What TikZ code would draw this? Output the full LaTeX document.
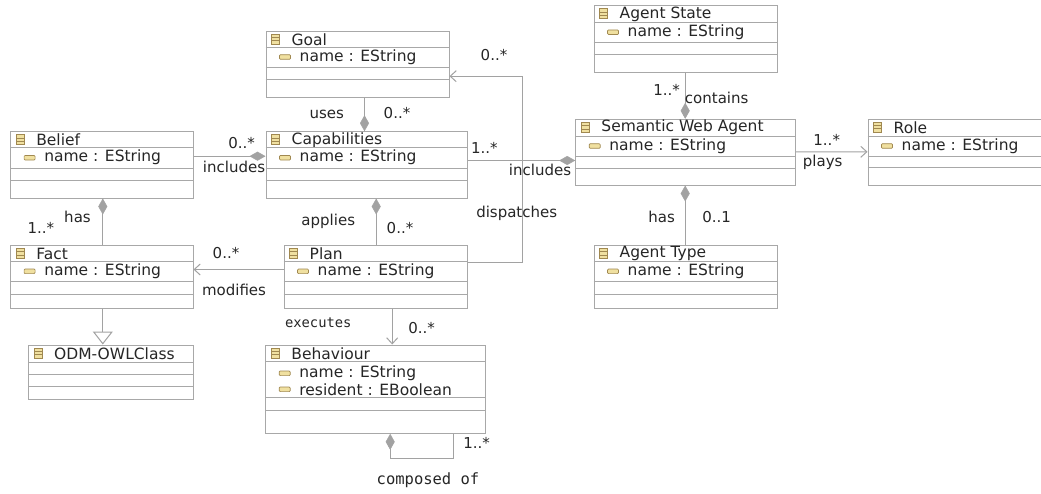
\documentclass[tikz,border=0pt]{standalone}
\usepackage{fontspec}
\setmainfont{DejaVu Sans}
\newfontfamily\monofont{DejaVu Sans Mono}
\usetikzlibrary{arrows.meta,fit,calc}
\definecolor{boxline}{HTML}{A8A8A8}
\definecolor{connc}{HTML}{A2A2A2}
\definecolor{iconfill}{HTML}{F0E0A0}
\definecolor{icondraw}{HTML}{A08850}
\definecolor{txt}{HTML}{262626}
\tikzset{
  classbox/.style={draw=boxline, line width=1pt, inner sep=0pt, fill=white},
  comp/.style={draw=boxline, line width=0.8pt},
  iconst/.style={draw=icondraw, fill=iconfill, line width=0.7pt},
  iconln/.style={draw=icondraw, line width=0.7pt},
  ttl/.style={font=\fontsize{15.5}{16}\selectfont, text=txt, inner sep=0pt, anchor=west},
  lbl/.style={font=\fontsize{15}{16}\selectfont, text=txt, inner sep=0pt},
  mlbl/.style={font=\monofont\fontsize{13.8}{14}\selectfont, text=txt, inner sep=0pt},
  assoc/.style={draw=connc, line width=1pt},
  compo/.style={assoc, -{Diamond[length=16pt,width=9pt,fill=connc,line width=0.5pt]}},
  navig/.style={assoc, -{Straight Barb[length=6pt,width=11pt,line width=1pt]}},
  gener/.style={assoc, -{Triangle[length=13pt,width=20pt,fill=white,line width=1pt]}}
}
\newcommand{\mkclass}[4]{%
  \node[classbox, fit={#2 #3}] (#1) {};
  \draw[iconst] ([xshift=6pt,yshift=-3.5pt]#1.north west) rectangle ([xshift=14pt,yshift=-13.5pt]#1.north west);
  \draw[iconln] ([xshift=6pt,yshift=-6.8pt]#1.north west) -- ([xshift=14pt,yshift=-6.8pt]#1.north west);
  \draw[iconln] ([xshift=6pt,yshift=-10.2pt]#1.north west) -- ([xshift=14pt,yshift=-10.2pt]#1.north west);
  \node[ttl] (#1-title) at ([xshift=26pt,yshift=-8.8pt]#1.north west) {#4};
}
\newcommand{\compline}[2]{\draw[comp] ([yshift=-#2pt]#1.north west) -- ([yshift=-#2pt]#1.north east);}
\newcommand{\mkattr}[4]{%
  \draw[iconst, rounded corners=1pt] ([xshift=14pt,yshift=-#3pt+2.3pt]#1.north west) rectangle ([xshift=25pt,yshift=-#3pt-2.3pt]#1.north west);
  \node[ttl] (#1-#2) at ([xshift=34pt,yshift=-#3pt]#1.north west) {#4};
}
\begin{document}
\begin{tikzpicture}[x=1pt,y=-1pt]
\useasboundingbox[fill=white] (0,0) rectangle (1041,493);

% classes
\mkclass{goal}{(266,31)}{(449,97)}{Goal}
\compline{goal}{16.5}\compline{goal}{36.8}\compline{goal}{49.2}
\mkattr{goal}{a1}{26.5}{name : EString}

\mkclass{capab}{(266,131.7)}{(467.5,198)}{Capabilities}
\compline{capab}{16.5}\compline{capab}{36.8}\compline{capab}{49.2}
\mkattr{capab}{a1}{26.5}{name : EString}

\mkclass{belief}{(10.6,131.7)}{(193,198)}{Belief}
\compline{belief}{16.5}\compline{belief}{36.8}\compline{belief}{49.2}
\mkattr{belief}{a1}{26.5}{name : EString}

\mkclass{fact}{(10.6,245.3)}{(193,308)}{Fact}
\compline{fact}{16.5}\compline{fact}{36.8}\compline{fact}{49.2}
\mkattr{fact}{a1}{26.5}{name : EString}

\mkclass{plan}{(284,245.3)}{(467.5,308)}{Plan}
\compline{plan}{16.5}\compline{plan}{36.8}\compline{plan}{49.2}
\mkattr{plan}{a1}{26.5}{name : EString}

\mkclass{astate}{(594,5.7)}{(777.5,72)}{Agent State}
\compline{astate}{17}\compline{astate}{37}\compline{astate}{49.6}
\mkattr{astate}{a1}{27}{name : EString}

\mkclass{swa}{(575.7,119.3)}{(795.5,185)}{Semantic Web Agent}
\compline{swa}{17.4}\compline{swa}{37.4}\compline{swa}{49.7}
\mkattr{swa}{a1}{27.2}{name : EString}

\mkclass{atype}{(594,245.3)}{(777.5,308)}{Agent Type}
\compline{atype}{16.5}\compline{atype}{36.8}\compline{atype}{49.2}
\mkattr{atype}{a1}{26.5}{name : EString}

\mkclass{role}{(868,119)}{(1060,185)}{Role}
\compline{role}{17.7}\compline{role}{37.7}\compline{role}{49.3}
\mkattr{role}{a1}{27.5}{name : EString}

\mkclass{odm}{(28.5,345)}{(193,399)}{ODM-OWLClass}
\compline{odm}{17.7}\compline{odm}{30.3}\compline{odm}{42.3}

\mkclass{behav}{(265.7,345)}{(485.7,433.3)}{Behaviour}
\compline{behav}{17.3}\compline{behav}{53.3}\compline{behav}{66}
\mkattr{behav}{a1}{28.8}{name : EString}
\mkattr{behav}{a2}{44.8}{resident : EBoolean}

% connectors
\draw[compo] ($(goal.south west)+(99,0)$) -- ($(capab.north west)+(99,0)$);
\draw[compo] ($(belief.north east)+(0,25)$) -- ($(capab.north west)+(0,25)$);
\draw[compo] ($(fact.north west)+(92.7,0)$) -- ($(belief.south west)+(92.7,0)$);
\draw[navig] ($(plan.north west)+(0,24.7)$) -- ($(fact.north east)+(0,24.7)$);
\draw[compo] ($(plan.north west)+(92.7,0)$) -- ($(capab.south west)+(110.7,0)$);
\draw[navig] ($(plan.south west)+(108.7,0)$) -- ($(behav.north west)+(127,0)$);
\draw[navig] ($(plan.north east)+(0,18)$) -- ++(54.2,0) |- ($(goal.north east)+(0,45.7)$);
\draw[compo] ($(capab.north east)+(0,29.3)$) -- ($(swa.north west)+(0,41.7)$);
\draw[compo] ($(astate.south west)+(91.7,0)$) -- ($(swa.north west)+(110,0)$);
\draw[compo] ($(atype.north west)+(91.7,0)$) -- ($(swa.south west)+(110,0)$);
\draw[navig] ($(swa.north east)+(0,33)$) -- ($(role.north west)+(0,33.3)$);
\draw[gener] ($(fact.south west)+(92.7,0)$) -- ($(odm.north west)+(74.8,0)$);
\draw[compo] ($(behav.south west)+(188.6,0)$) -- ++(0,25) -| ($(behav.south west)+(125,0)$);

% labels
\node[lbl] (l-uses) at (326.7,114.3) {uses};
\node[lbl] (l-uses-m) at (397,113) {0..*};
\node[lbl] (l-inc1-m) at (241.7,142.7) {0..*};
\node[lbl] (l-inc1) at (234,166.7) {includes};
\node[lbl] (l-has1) at (77.5,216.7) {has};
\node[lbl] (l-has1-m) at (40.8,228.3) {1..*};
\node[lbl] (l-mod-m) at (226,253.3) {0..*};
\node[lbl] (l-mod) at (234,290) {modifies};
\node[lbl] (l-app) at (328.3,221.7) {applies};
\node[lbl] (l-app-m) at (400,228.3) {0..*};
\node[mlbl] (l-exe) at (318.3,322.7) {executes};
\node[lbl] (l-exe-m) at (421.7,328.3) {0..*};
\node[lbl] (l-dis-m) at (494,55) {0..*};
\node[lbl] (l-dis) at (516.7,213.3) {dispatches};
\node[lbl] (l-inc2-m) at (484.3,147.7) {1..*};
\node[lbl] (l-inc2) at (540,170) {includes};
\node[lbl] (l-con-m) at (666.7,90) {1..*};
\node[lbl] (l-con) at (716.7,97.7) {contains};
\node[lbl] (l-has2) at (661.7,216.7) {has};
\node[lbl] (l-has2-m) at (716.7,216.7) {0..1};
\node[lbl] (l-play-m) at (826.7,140) {1..*};
\node[lbl] (l-play) at (822.7,162.3) {plays};
\node[lbl] (l-comp-m) at (476.7,443) {1..*};
\node[mlbl, font=\monofont\fontsize{15.5}{16}\selectfont] (l-comp) at (428,480) {composed of};
\end{tikzpicture}
\end{document}
